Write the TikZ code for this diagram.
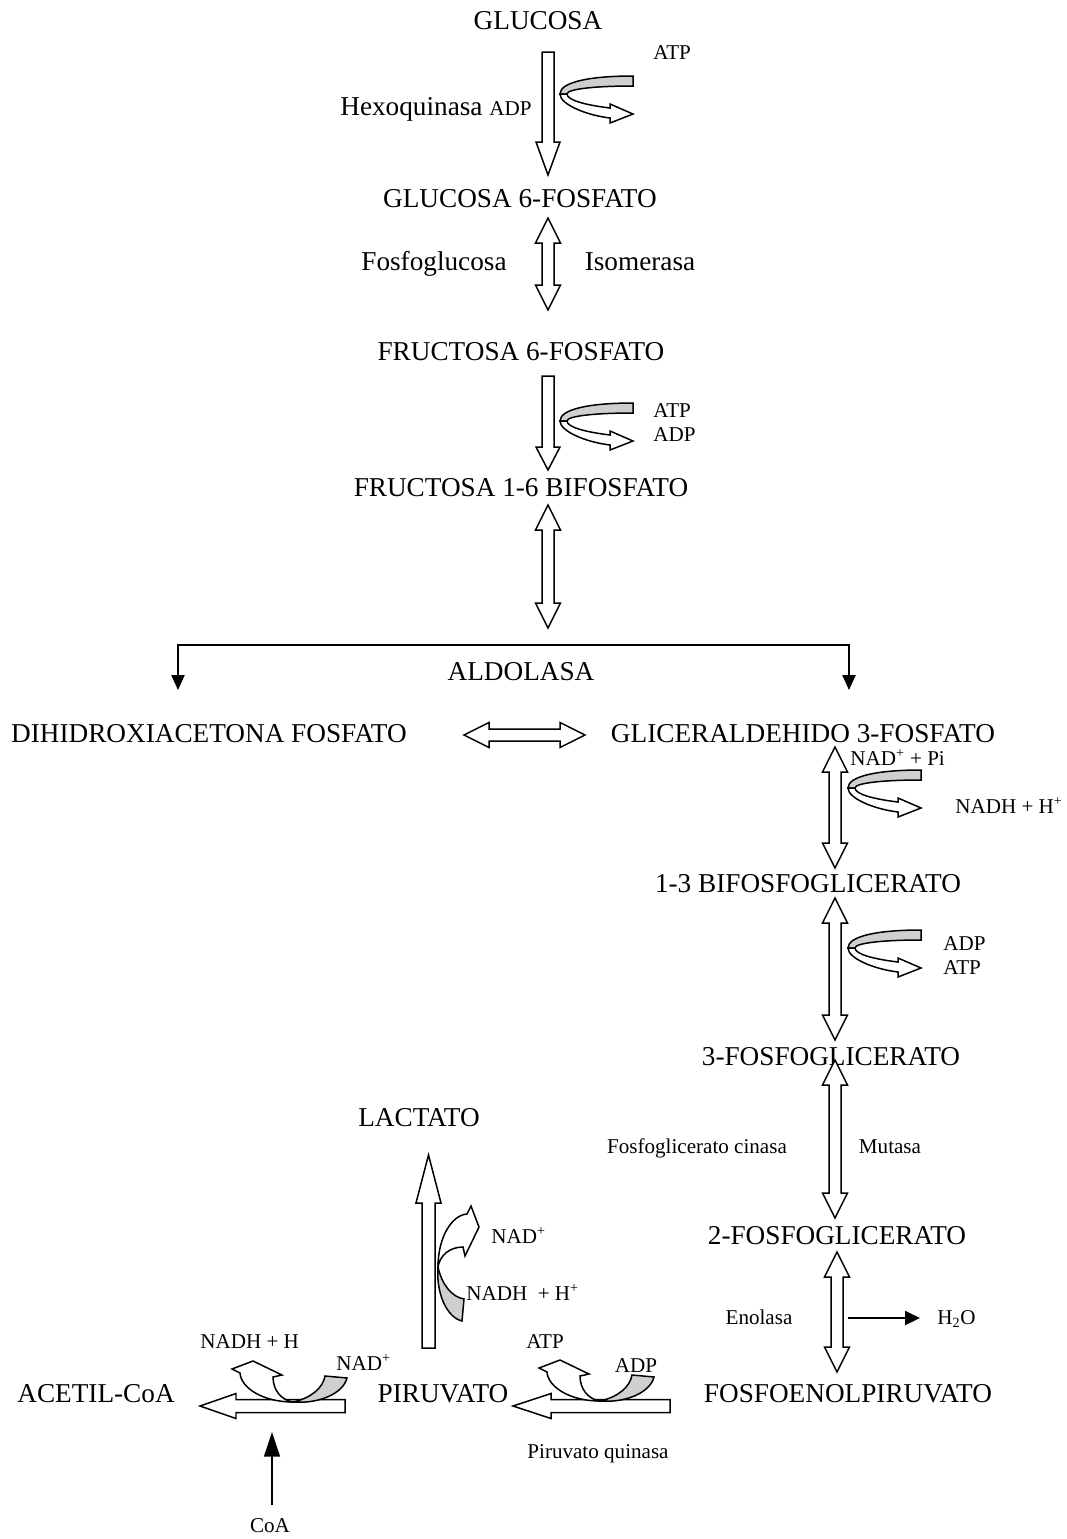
\documentclass[tikz,border=0pt]{standalone}
\usepackage{fontspec}
\setmainfont{Liberation Serif}
\usepackage{xcolor}
\definecolor{cLine}{HTML}{000000}
\definecolor{cShade}{HTML}{CFCFCF}
\usepackage{tikz}
\usetikzlibrary{calc,arrows.meta}
\newcommand{\txtbig}{\fontsize{15.5pt}{17pt}\selectfont}
\newcommand{\txtsmall}{\fontsize{12pt}{14pt}\selectfont}
% block arrows between named coordinates (px units, y pointing down)
\newcommand{\arrowdown}[3]{%
  \path[hollow-block] ($(#1)+(-6,0)$) -- ($(#2)+(-6,-#3)$) -- ($(#2)+(-12,-#3)$) -- (#2)
    -- ($(#2)+(12,-#3)$) -- ($(#2)+(6,-#3)$) -- ($(#1)+(6,0)$) -- cycle;}
\newcommand{\arrowupdown}[2]{%
  \path[hollow-block] (#1) -- ($(#1)+(12.5,25)$) -- ($(#1)+(6,25)$) -- ($(#2)+(6,-25)$)
    -- ($(#2)+(12.5,-25)$) -- (#2) -- ($(#2)+(-12.5,-25)$) -- ($(#2)+(-6,-25)$)
    -- ($(#1)+(-6,25)$) -- ($(#1)+(-12.5,25)$) -- cycle;}
\newcommand{\arrowleftright}[2]{%
  \path[hollow-block] (#1) -- ($(#1)+(25,-12.5)$) -- ($(#1)+(25,-6)$) -- ($(#2)+(-25,-6)$)
    -- ($(#2)+(-25,-12.5)$) -- (#2) -- ($(#2)+(-25,12.5)$) -- ($(#2)+(-25,6)$)
    -- ($(#1)+(25,6)$) -- ($(#1)+(25,12.5)$) -- cycle;}
\newcommand{\arrowleft}[3]{%
  \path[hollow-block] (#1) -- ($(#1)+(#3,-12.5)$) -- ($(#1)+(#3,-6.5)$) -- ($(#2)+(0,-6.5)$)
    -- ($(#2)+(0,6.5)$) -- ($(#1)+(#3,6.5)$) -- ($(#1)+(#3,12.5)$) -- cycle;}
\newcommand{\arrowup}[3]{%
  \path[hollow-block] (#1) -- ($(#1)+(12.5,#3)$) -- ($(#1)+(6.5,#3)$) -- ($(#2)+(6.5,0)$)
    -- ($(#2)+(-6.5,0)$) -- ($(#1)+(-6.5,#3)$) -- ($(#1)+(-12.5,#3)$) -- cycle;}
\tikzset{
  lbl-big/.style={inner sep=0pt,anchor=base,font=\txtbig},
  lbl-small/.style={inner sep=0pt,anchor=base,font=\txtsmall},
  hollow-block/.style={draw=cLine,line width=0.85pt,fill=white},
  band-gray/.style={draw=cLine,line width=0.85pt,fill=cShade},
  arrow-thin/.style={draw=cLine,line width=0.9pt,-{Triangle[length=8.5pt,width=8pt]}},
  arrow-branch/.style={draw=cLine,line width=0.9pt,
    {Triangle[length=8.5pt,width=7.5pt]}-{Triangle[length=8.5pt,width=7.5pt]}},
  % U-turn arrow: gray band in, white band out
  pics/turn-arrow/.style={code={
    \path[band-gray] (73,-20) .. controls (30,-20) and (0,-14) .. (0,-2) -- (7,-2)
      .. controls (7,-7) and (35,-10) .. (73,-10) -- cycle;
    \path[hollow-block] (0,-2) .. controls (0,8) and (25,19) .. (50,22) -- (50,27) -- (73,18)
      -- (50,8) -- (50,12) .. controls (25,9) and (7,4) .. (7,-2) -- cycle;
  }},
  % crescent arrow sitting on a shaft
  pics/cup-arrow/.style={code={
    \path[band-gray] (0,0) .. controls (25,2) and (50,-8) .. (54,-24) -- (32,-26)
      .. controls (30,-14) and (18,-4) .. (0,0) -- cycle;
    \path[hollow-block] (0,0) .. controls (-30,0) and (-52,-14) .. (-53,-29) -- (-61,-33)
      -- (-40,-41) -- (-11,-27) -- (-20,-25) .. controls (-20,-12) and (-12,-2) .. (0,0) -- cycle;
  }},
}
\begin{document}
\begin{tikzpicture}[x=0.02cm,y=-0.02cm]
  \useasboundingbox (0,0) rectangle (1066,1539);
  % metabolites
  \node[lbl-big] (glc) at (538,29) {GLUCOSA};
  \node[lbl-big] (g6p) at (520,207) {GLUCOSA 6-FOSFATO};
  \node[lbl-big] (f6p) at (521,360) {FRUCTOSA 6-FOSFATO};
  \node[lbl-big] (f16bp) at (521,496) {FRUCTOSA 1-6 BIFOSFATO};
  \node[lbl-big] (aldolasa) at (521,680) {ALDOLASA};
  \node[lbl-big] (dhap) at (209,742) {DIHIDROXIACETONA FOSFATO};
  \node[lbl-big] (gap) at (803,742) {GLICERALDEHIDO 3-FOSFATO};
  \node[lbl-big] (bpg13) at (808,892) {1-3 BIFOSFOGLICERATO};
  \node[lbl-big] (pg3) at (831,1065) {3-FOSFOGLICERATO};
  \node[lbl-big] (lactato) at (419,1126) {LACTATO};
  \node[lbl-big] (pg2) at (837,1244) {2-FOSFOGLICERATO};
  \node[lbl-big] (acetil) at (96,1402) {ACETIL-CoA};
  \node[lbl-big] (piruvato) at (443,1402) {PIRUVATO};
  \node[lbl-big] (pep) at (848,1402) {FOSFOENOLPIRUVATO};
  % enzymes
  \node[lbl-big,anchor=base west] (hexo) at (340,115) {Hexoquinasa {\txtsmall ADP}};
  \node[lbl-big] (fosfogluc) at (434,270) {Fosfoglucosa};
  \node[lbl-big] (isomerasa) at (640,270) {Isomerasa};
  \node[lbl-small] (fgcinasa) at (697,1153) {Fosfoglicerato cinasa};
  \node[lbl-small] (mutasa) at (890,1153) {Mutasa};
  \node[lbl-small] (enolasa) at (759,1324) {Enolasa};
  \node[lbl-small] (pquinasa) at (598,1458) {Piruvato quinasa};
  % cofactors
  \node[lbl-small,anchor=base west] (atp1) at (653,59) {ATP};
  \node[lbl-small,anchor=base west] (atp2) at (653,417) {ATP};
  \node[lbl-small,anchor=base west] (adp2) at (653,441) {ADP};
  \node[lbl-small,anchor=base west] (nadpi) at (850,765) {NAD\textsuperscript{+} + Pi};
  \node[lbl-small,anchor=base west] (nadh1) at (955,813) {NADH + H\textsuperscript{+}};
  \node[lbl-small,anchor=base west] (adp3) at (943,950) {ADP};
  \node[lbl-small,anchor=base west] (atp3) at (943,974) {ATP};
  \node[lbl-small,anchor=base west] (nadL) at (491,1243) {NAD\textsuperscript{+}};
  \node[lbl-small,anchor=base west] (nadhL) at (466,1300) {NADH \ + H\textsuperscript{+}};
  \node[lbl-small,anchor=base west] (h2o) at (937,1324) {H\textsubscript{2}O};
  \node[lbl-small,anchor=base west] (nadhA) at (200,1348) {NADH + H};
  \node[lbl-small,anchor=base west] (nadA) at (336,1370) {NAD\textsuperscript{+}};
  \node[lbl-small] (atpP) at (545,1348) {ATP};
  \node[lbl-small] (adpP) at (636,1372) {ADP};
  \node[lbl-small] (coa) at (270,1532) {CoA};

  % arrow end points
  \coordinate (a1s) at (548,52);   \coordinate (a1e) at (548,175);
  \coordinate (a2t) at (548,218);  \coordinate (a2b) at (548,310);
  \coordinate (a3s) at (548,376);  \coordinate (a3e) at (548,470);
  \coordinate (a4t) at (548,505);  \coordinate (a4b) at (548,628);
  \coordinate (a5l) at (464,735);  \coordinate (a5r) at (585,735);
  \coordinate (a6t) at (835,747);  \coordinate (a6b) at (835,868);
  \coordinate (a7t) at (835,898);  \coordinate (a7b) at (835,1040);
  \coordinate (a8t) at (835,1060); \coordinate (a8b) at (835,1218);
  \coordinate (a9t) at (837,1252); \coordinate (a9b) at (837,1372);
  \coordinate (lacT) at (428.5,1155); \coordinate (lacS) at (428.5,1348);
  \coordinate (acT) at (200,1406); \coordinate (acS) at (345,1406);
  \coordinate (pyT) at (513,1406); \coordinate (pyS) at (670,1406);

  \arrowdown{a1s}{a1e}{33}
  \arrowupdown{a2t}{a2b}
  \arrowdown{a3s}{a3e}{23}
  \arrowupdown{a4t}{a4b}
  \arrowleftright{a5l}{a5r}
  \arrowupdown{a6t}{a6b}
  \arrowupdown{a7t}{a7b}
  \arrowupdown{a8t}{a8b}
  \arrowupdown{a9t}{a9b}
  \arrowup{lacT}{lacS}{48}
  \arrowleft{acT}{acS}{36}
  \arrowleft{pyT}{pyS}{38}

  % aldolasa split
  \coordinate (brL) at (178,690);  \coordinate (brLc) at (178,645);
  \coordinate (brRc) at (849,645); \coordinate (brR) at (849,690);
  \draw[arrow-branch] (brL) -- (brLc) -- (brRc) -- (brR);

  \coordinate (h2oS) at (848,1318); \coordinate (h2oT) at (920,1318);
  \draw[arrow-thin] (h2oS) -- (h2oT);
  \coordinate (coaS) at (272,1505); \coordinate (coaT) at (272,1432);
  \draw[draw=cLine,line width=0.9pt,-{Triangle[length=14pt,width=9pt]}] (coaS) -- (coaT);

  % cofactor arrows
  \pic at (560,96) {turn-arrow};
  \pic at (560,423) {turn-arrow};
  \pic at (848,790) {turn-arrow};
  \pic at (848,950) {turn-arrow};
  \pic at (293,1402) {cup-arrow};
  \pic at (600,1401) {cup-arrow};
  \pic[rotate=-90] at (438,1267) {cup-arrow};
\end{tikzpicture}
\end{document}
